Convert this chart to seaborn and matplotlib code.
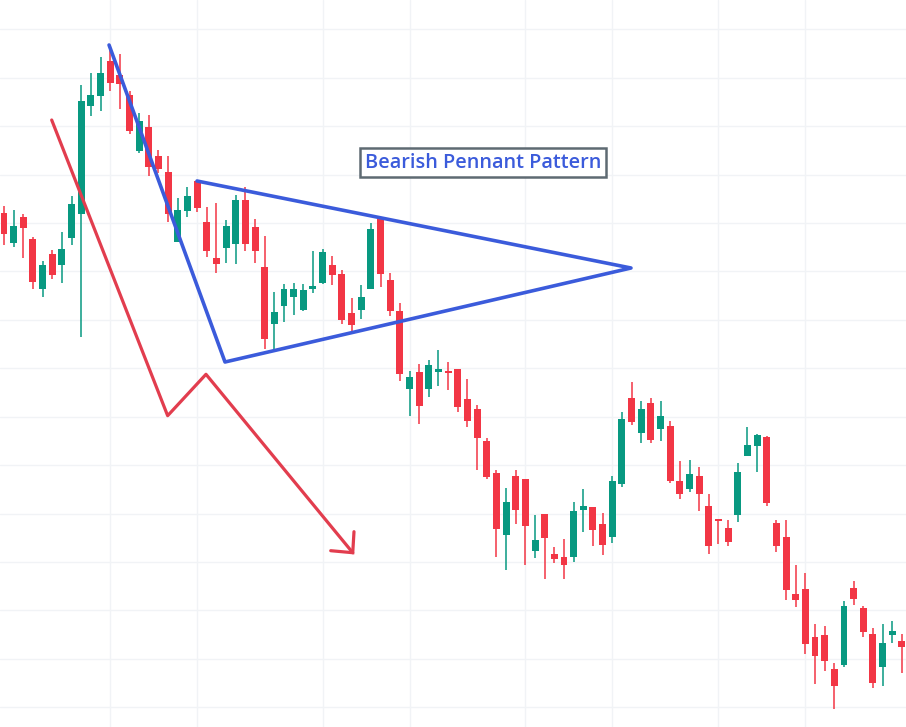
import matplotlib
matplotlib.use("Agg")
import matplotlib.pyplot as plt
import seaborn as sns
import numpy as np
import pandas as pd

# ローソク足データ (始値・高値・安値・終値)
opens = [514.3, 484.3, 509.7, 488, 438.3, 473, 462, 489.3, 512.7, 621.3,
         631.3, 666, 652, 632, 576.3, 600, 571, 555, 485.3, 516.3,
         546.5, 505, 468.8, 479.3, 483.3, 527, 500, 460, 403.3, 421.3,
         430.3, 417, 438.3, 444, 461.7, 453, 413.7, 417, 438, 508.7,
         447, 416, 338.3, 355, 338.3, 355.3, 356, 358, 328, 318,
         286, 254, 192.3, 251, 248, 176.3, 213.3, 173, 170, 170,
         217, 220, 203, 190.3, 243, 329, 294.3, 324, 298, 301,
         246, 238.3, 251, 221, 207.3, 199, 212.3, 271.3, 281.3, 290,
         204, 190, 133, 138, 90, 92, 58, 62.3, 139, 119.3,
         93, 60.3, 92.3, 86]
highs = [521, 517, 513, 490, 466.3, 477, 495, 531.3, 642, 654.3,
         669.7, 680, 673, 636.3, 613.7, 611.7, 577, 570.7, 528.7, 540.3,
         546.7, 520, 523.7, 507, 532, 539.7, 507.7, 491, 435, 442.7,
         443.7, 442.7, 476, 478, 471, 457, 429, 442, 504.3, 509.3,
         453.7, 423.7, 356, 363.3, 367, 377, 365, 358, 347.7, 321.7,
         288.7, 257, 239, 257, 248, 212, 213.3, 180.3, 188, 225,
         238, 220, 213.7, 251, 314.7, 344.7, 326, 329, 326, 306,
         266, 267.3, 260, 233, 207.3, 206.7, 263.7, 300, 293.3, 291,
         207, 207, 162, 154, 103, 101, 64, 126, 146.3, 121,
         99, 103, 106, 93]
lows = [482, 480, 469.3, 437.7, 429.7, 447.7, 443.7, 482, 389.7, 611.3,
        616.3, 636.3, 618.3, 592.7, 573.7, 551.3, 553.7, 504.7, 485.3, 510.3,
        515.3, 469.7, 454.3, 464.3, 463.3, 475.7, 464.3, 378, 378, 405.3,
        412, 416, 434.3, 443.3, 442.3, 403, 392.7, 408, 438, 440.3,
        411, 346.3, 311.3, 303, 330.3, 341, 337, 315.3, 300.3, 257,
        248.3, 170, 157.3, 203, 162, 169.3, 148.3, 163.7, 148.3, 164.7,
        195.3, 181, 172.3, 183.7, 240.3, 302, 284.3, 283.7, 286.3, 243.7,
        227.7, 235.3, 216.3, 172.7, 183.3, 181.3, 204.7, 271.3, 254.7, 220.7,
        174.7, 127.3, 120.3, 73.3, 43.3, 56.3, 18.3, 60.3, 122.3, 90.3,
        39.3, 41.3, 84.3, 54.3]
closes = [492.7, 501, 499.3, 445.3, 462, 452, 478, 523, 626, 632,
          653.7, 643.7, 642.7, 596.3, 606, 559.7, 558.3, 512.7, 517, 531,
          519.3, 476.3, 462.7, 501, 527, 483.3, 476.3, 388, 415, 438,
          438, 437, 441, 475, 452.3, 407, 402, 430, 498, 453,
          416.3, 353, 350, 321, 362, 358, 354.3, 320.3, 306.3, 289.3,
          250, 198.3, 225, 217, 201.3, 187, 189.3, 168, 162, 216,
          221, 197, 182.5, 246, 308, 305, 318, 287, 311, 246.3,
          233.3, 253, 233.3, 181.3, 206, 185, 255, 282, 292, 224.3,
          181.5, 137.3, 127.3, 83.3, 70.7, 66.3, 41.3, 121, 128.3, 95.3,
          44.3, 84, 95.7, 80.3]

# 縦グリッドの位置 (ローソク足の番号)
vgrid_idx = [11, 20, 33, 42, 54, 63, 74, 83]

# ペナント (青線) とトレンド矢印 (赤線) の頂点
pennant_x = [10.88, 22.89, 64.94, 19.99]
pennant_y = [682, 365, 459, 546]
arrow_x = [4.94, 16.95, 20.92, 36.12]
arrow_y = [607, 311.3, 352.7, 174.3]
head_x = [33.84, 36.12, 36.25]
head_y = [176.3, 174.3, 195.3]

label_text = "Bearish Pennant Pattern"
label_pos = (49.6, 564.5)

GREEN = "#089981"
RED = "#F23645"
BLUE = "#3B5BDB"
LINE_RED = "#E23D4E"

sns.set_theme(style="white")

df = pd.DataFrame({"open": opens, "high": highs, "low": lows, "close": closes})
df["idx"] = np.arange(len(df))
df["up"] = df["close"] >= df["open"]

fig = plt.figure(figsize=(9.06, 7.27), dpi=100)
ax = fig.add_axes([0, 0, 1, 1])

px = 9.655  # 1本あたりの幅 (px)
ax.set_xlim(-4 / px, (906 - 4) / px)
ax.set_ylim(0, 727)

# グリッド
yg = 727 - np.array([29.3, 77.7, 126.2, 174.6, 223, 271.4, 319.8, 368.3,
                     416.7, 465.1, 513.5, 562, 610.4, 658.8, 707.2])
for g in yg:
    ax.axhline(g, color="#F1F3F6", lw=1.0, zorder=0)
for g in vgrid_idx:
    ax.axvline(g, color="#F1F3F6", lw=1.0, zorder=0)

# ローソク足
colors = np.where(df["up"], GREEN, RED)
ax.vlines(df["idx"], df["low"], df["high"], colors=colors, lw=1.1, zorder=2)
body_bot = np.minimum(df["open"], df["close"])
body_h = np.maximum(np.abs(df["close"] - df["open"]), 1.6)
ax.bar(df["idx"], body_h, bottom=body_bot, width=0.72, color=colors,
       linewidth=0, zorder=3)

# パターンの線
pen = pd.DataFrame({"x": pennant_x, "y": pennant_y})
sns.lineplot(data=pen, x="x", y="y", sort=False, ax=ax, color=BLUE,
             lw=2.6, zorder=4, solid_capstyle="round", solid_joinstyle="round")
arr = pd.DataFrame({"x": arrow_x, "y": arrow_y})
sns.lineplot(data=arr, x="x", y="y", sort=False, ax=ax, color=LINE_RED,
             lw=2.3, zorder=4, solid_capstyle="round", solid_joinstyle="round")
hd = pd.DataFrame({"x": head_x, "y": head_y})
sns.lineplot(data=hd, x="x", y="y", sort=False, ax=ax, color=LINE_RED,
             lw=2.3, zorder=4, solid_capstyle="round", solid_joinstyle="miter")

ax.text(label_pos[0], label_pos[1], label_text, ha="center", va="center",
        fontsize=14.3, fontfamily="Open Sans", fontweight="semibold",
        color=BLUE, zorder=5,
        bbox=dict(boxstyle="square,pad=0.24", fc="white", ec="#5E6A72", lw=1.8))

ax.set_xlabel("")
ax.set_ylabel("")
ax.set_xticks([])
ax.set_yticks([])
for s in ax.spines.values():
    s.set_visible(False)

fig.savefig("out.png", dpi=100)
